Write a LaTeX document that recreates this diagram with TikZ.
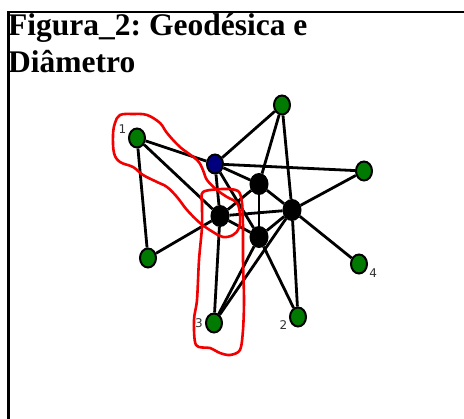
\documentclass[tikz,border=0pt]{standalone}
\usepackage{fontspec}
\setmainfont{Liberation Serif}
\setsansfont{DejaVu Sans}
\usepackage{xcolor}
\usepackage{tikz}
\usetikzlibrary{shapes.geometric}
\definecolor{vgreen}{HTML}{007A00}
\definecolor{vblue}{HTML}{00007F}
\definecolor{loopred}{HTML}{F20000}
\definecolor{lblgray}{HTML}{333333}
\frenchspacing

\begin{document}
\begin{tikzpicture}[x=1pt, y=-1pt,
  vert/.style={ellipse, draw=black, line width=2pt, minimum width=16pt, minimum height=19pt, inner sep=0pt},
  leaf/.style={vert, fill=vgreen},
  hub/.style={vert, fill=black, minimum width=17pt, minimum height=20pt},
  root/.style={vert, fill=vblue},
  edge/.style={line width=2.8pt},
  lbl/.style={font=\sffamily\fontsize{12}{12}\selectfont, text=lblgray, inner sep=0pt, label distance=2pt},
  hand/.style={loopred, line width=2.6pt, line join=round}]
  \useasboundingbox (0,0) rectangle (464,419);
  \draw[line width=2.4pt] (464,12) -- (8.5,12) -- (8.5,419);
  \node[anchor=north west, inner sep=0pt, align=left, font=\bfseries\fontsize{31.5}{37}\selectfont] (title) at (8,13) {Figura\_2: Geodésica e\\Diâmetro};

  \node[leaf, label={[lbl]160:1}] (v1) at (137,138) {};
  \node[leaf] (vtop) at (282,105) {};
  \node[root] (vb) at (215,164) {};
  \node[leaf] (vright) at (364,171) {};
  \node[hub] (ha) at (259,184) {};
  \node[hub] (hb) at (220,216) {};
  \node[hub] (hc) at (292,210) {};
  \node[hub] (hd) at (259,237) {};
  \node[leaf] (vleft) at (148,258) {};
  \node[leaf, label={[lbl]-25:4}] (v4) at (359,264) {};
  \node[leaf, label={[lbl]200:2}] (v2) at (298,317) {};
  \node[leaf, label={[lbl]180:3}] (v3) at (214,323) {};

  \foreach \a/\b in {v1/vb, v1/hb, v1/vleft, vtop/vb, vtop/ha, vtop/hc, vb/vright, vb/ha, vb/hb, vb/hd,
                     ha/hb, ha/hc, ha/hd, hb/hc, hb/hd, hb/vleft, hb/v3, hc/hd, hc/vright, hc/v4,
                     hc/v2, hc/v3, hd/v3, hd/v2}
    \draw[edge] (\a) -- (\b);

  \draw[hand] plot[smooth cycle, tension=0.6] coordinates {(120,115) (133,114) (147,115) (160,123) (167,133)
    (180,147) (197,160) (203,170) (207,180) (217,190) (227,197) (237,203) (240,215) (239,228) (233,235)
    (223,237) (213,232) (200,223) (187,210) (177,197) (167,187) (157,182) (143,175) (133,167) (120,162)
    (114,153) (113,135) (115,123)};
  \draw[hand] plot[smooth cycle, tension=0.5] coordinates {(203,192) (223,189) (238,191) (242,203) (243,227)
    (243,260) (244,300) (243,330) (240,350) (230,355) (220,353) (210,348) (196,345) (194,320) (197,300)
    (199,260) (202,227) (202,205)};
\end{tikzpicture}
\end{document}
